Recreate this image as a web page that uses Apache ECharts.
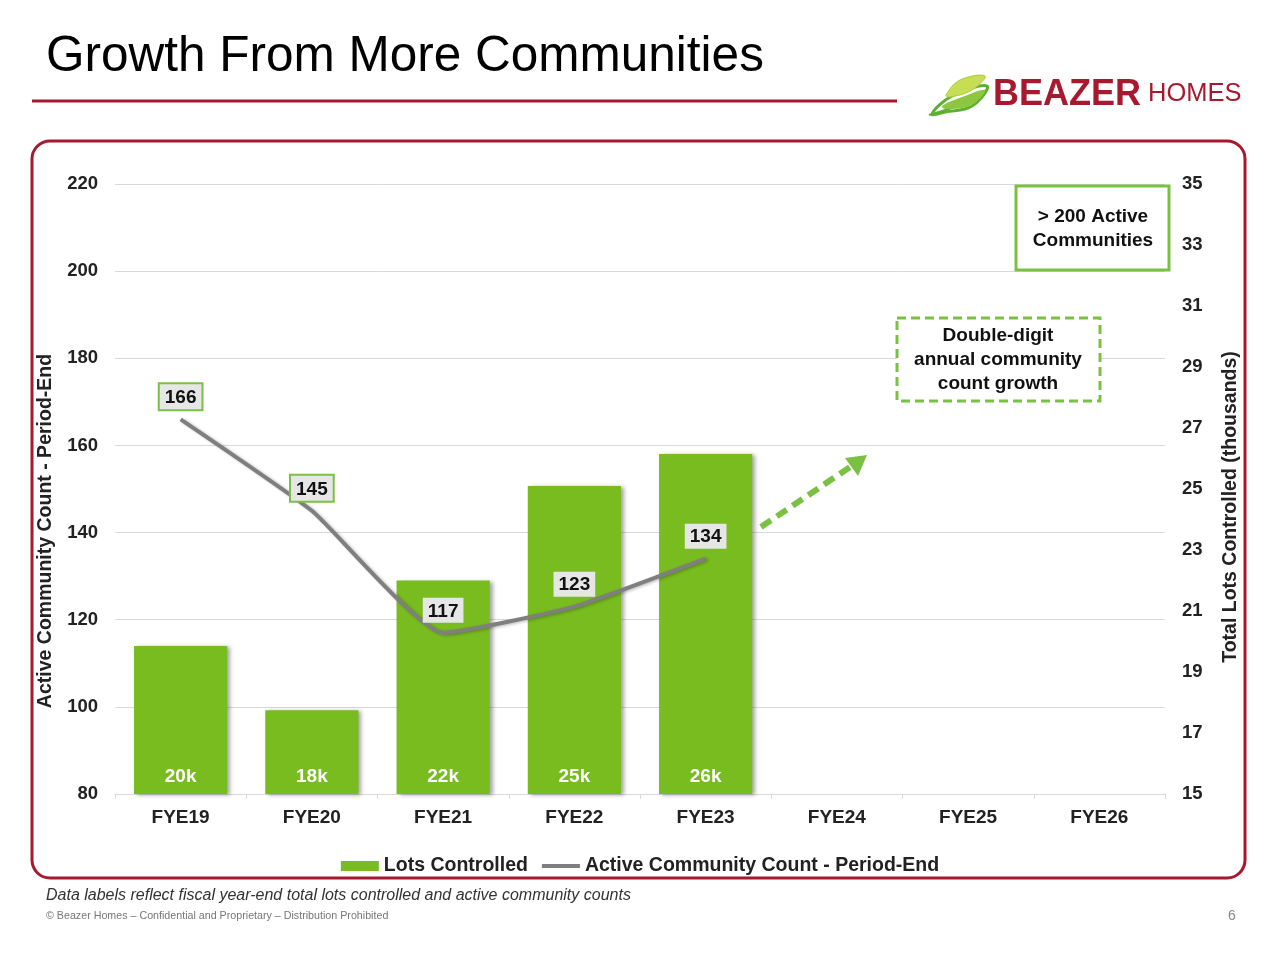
<!DOCTYPE html>
<html>
<head>
<meta charset="utf-8">
<script src="https://cdn.jsdelivr.net/npm/echarts@6/dist/echarts.min.js"></script>
<style>html,body{margin:0;padding:0;background:#fff;}#chart{width:1280px;height:960px;}</style>
</head>
<body>
<div id="chart"></div>
<script>
const categories = ['FYE19','FYE20','FYE21','FYE22','FYE23','FYE24','FYE25','FYE26'];
const lotsControlled = [19.85, 17.75, 22.0, 25.1, 26.15, null, null, null];
const lotsLabels = ['20k','18k','22k','25k','26k','','',''];
const communityCount = [166, 145, 117, 123, 134, null, null, null];
const leftTicks = {min: 80, max: 220, interval: 20};
const rightTicks = {min: 15, max: 35, interval: 2};

const GREEN = '#78BC1F';
const BORDER_GREEN = '#7AC143';
const RED = '#A6192E';
const FONT = 'Liberation Sans, Arial, sans-serif';

const chart = echarts.init(document.getElementById('chart'));

const lineData = communityCount.map((v, i) => {
  if (v === null) return null;
  const bordered = i < 2;
  return {
    value: v,
    label: {
      show: true,
      position: 'top',
      distance: 9,
      formatter: '{c}',
      color: '#111',
      fontWeight: 'bold',
      fontSize: 19,
      fontFamily: FONT,
      backgroundColor: '#E6E6E6',
      padding: [4, 5, 2, 5],
      borderColor: bordered ? BORDER_GREEN : 'transparent',
      borderWidth: bordered ? 2 : 0
    }
  };
});

const option = {
  backgroundColor: '#fff',
  animation: false,
  textStyle: {fontFamily: FONT},
  grid: {left: 115, right: 115, top: 184, bottom: 166, containLabel: false},
  legend: {
    top: 851,
    left: 'center',
    itemWidth: 38,
    itemHeight: 10,
    itemGap: 12,
    textStyle: {fontSize: 19.5, fontWeight: 'bold', color: '#222', fontFamily: FONT},
    data: [
      {name: 'Lots Controlled', icon: 'rect'},
      {name: 'Active Community Count - Period-End', lineStyle: {width: 4, color: '#7F7F7F'}}
    ]
  },
  xAxis: {
    type: 'category',
    data: categories,
    axisLine: {show: true, lineStyle: {color: '#D9D9D9', width: 1}},
    axisTick: {show: true, alignWithLabel: false, length: 5, lineStyle: {color: '#D9D9D9'}},
    axisLabel: {fontSize: 19, fontWeight: 'bold', color: '#222', margin: 14, fontFamily: FONT}
  },
  yAxis: [
    {
      type: 'value',
      min: leftTicks.min, max: leftTicks.max, interval: leftTicks.interval,
      axisLine: {show: false},
      axisTick: {show: false},
      splitLine: {show: true, lineStyle: {color: '#D9D9D9', width: 1}},
      axisLabel: {fontSize: 18.5, fontWeight: 'bold', color: '#222', margin: 17, fontFamily: FONT}
    },
    {
      type: 'value',
      min: rightTicks.min, max: rightTicks.max, interval: rightTicks.interval,
      position: 'right',
      axisLine: {show: false},
      axisTick: {show: false},
      splitLine: {show: false},
      axisLabel: {fontSize: 18.5, fontWeight: 'bold', color: '#222', margin: 17, fontFamily: FONT}
    }
  ],
  series: [
    {
      name: 'Lots Controlled',
      type: 'bar',
      yAxisIndex: 1,
      data: lotsControlled,
      barWidth: '71%',
      itemStyle: {
        color: GREEN,
        shadowColor: 'rgba(0,0,0,0.35)',
        shadowBlur: 4,
        shadowOffsetX: 3,
        shadowOffsetY: 1
      },
      label: {
        show: true,
        position: 'insideBottom',
        distance: 8,
        formatter: (p) => lotsLabels[p.dataIndex],
        color: '#fff',
        fontWeight: 'bold',
        fontSize: 19,
        fontFamily: FONT
      },
      z: 2
    },
    {
      name: 'Active Community Count - Period-End',
      type: 'line',
      yAxisIndex: 0,
      data: lineData,
      smooth: 0.15,
      symbol: 'circle',
      symbolSize: 2,
      showSymbol: true,
      lineStyle: {color: '#7F7F7F', width: 4, shadowColor: 'rgba(0,0,0,0.25)', shadowBlur: 3, shadowOffsetX: 2, shadowOffsetY: 1},
      itemStyle: {color: 'rgba(127,127,127,0)', borderWidth: 0},
      z: 5
    }
  ],
  graphic: [
    // outer frame
    {type: 'rect', z: -1, shape: {x: 32, y: 141, width: 1213, height: 737, r: 18},
     style: {fill: 'none', stroke: RED, lineWidth: 3}},
    // title
    {type: 'text', x: 46, y: 32,
     style: {text: 'Growth From More Communities', fontSize: 49.5, fontFamily: FONT, fill: '#000'}},
    // title underline
    {type: 'line', shape: {x1: 32, y1: 101, x2: 897, y2: 101}, style: {stroke: RED, lineWidth: 3}},
    // logo leaves
    {type: 'polygon', shape: {points: [[932, 114], [952, 96], [987, 86], [972, 106], [945, 112]], smooth: 0.4},
     style: {fill: '#fff', stroke: '#5BB030', lineWidth: 3}},
    {type: 'line', shape: {x1: 929, y1: 115, x2: 975, y2: 101},
     style: {stroke: '#5BB030', lineWidth: 2}},
    {type: 'polygon', shape: {points: [[946, 95], [960, 80], [985, 76], [972, 90], [950, 97]], smooth: 0.4},
     style: {fill: '#C6DD55', stroke: '#A9CF38', lineWidth: 1}},
    {type: 'polygon', shape: {points: [[942, 106], [962, 97], [985, 90], [972, 105], [946, 109]], smooth: 0.4},
     style: {fill: '#8DC63F'}},
    // logo text
    {type: 'text', x: 993, y: 77,
     style: {text: 'BEAZER', fontSize: 36, fontWeight: 'bold', fontFamily: FONT, fill: RED}},
    {type: 'text', x: 1148, y: 81,
     style: {text: 'HOMES', fontSize: 25.5, fontFamily: FONT, fill: RED}},
    // axis titles
    {type: 'text', x: 46, y: 531, rotation: Math.PI / 2,
     style: {text: 'Active Community Count - Period-End', fontSize: 19.5, fontWeight: 'bold', fontFamily: FONT,
             fill: '#222', align: 'center', verticalAlign: 'middle'}},
    {type: 'text', x: 1231, y: 507, rotation: Math.PI / 2,
     style: {text: 'Total Lots Controlled (thousands)', fontSize: 19.5, fontWeight: 'bold', fontFamily: FONT,
             fill: '#222', align: 'center', verticalAlign: 'middle'}},
    // > 200 Active Communities box
    {type: 'rect', shape: {x: 1016, y: 186, width: 153, height: 84},
     style: {fill: '#fff', stroke: BORDER_GREEN, lineWidth: 3}, z: 10},
    {type: 'text', x: 1093, y: 229, z: 11,
     style: {text: '> 200 Active\nCommunities', fontSize: 19, fontWeight: 'bold', fontFamily: FONT, fill: '#111',
             align: 'center', verticalAlign: 'middle', lineHeight: 24}},
    // dashed box
    {type: 'rect', shape: {x: 897, y: 318, width: 203, height: 83},
     style: {fill: '#fff', stroke: BORDER_GREEN, lineWidth: 3, lineDash: [9, 5]}, z: 10},
    {type: 'text', x: 998, y: 360, z: 11,
     style: {text: 'Double-digit\nannual community\ncount growth', fontSize: 19, fontWeight: 'bold', fontFamily: FONT,
             fill: '#111', align: 'center', verticalAlign: 'middle', lineHeight: 24}},
    // dashed arrow
    {type: 'line', shape: {x1: 761, y1: 527, x2: 853, y2: 465}, z: 10,
     style: {stroke: BORDER_GREEN, lineWidth: 6, lineDash: [12, 7]}},
    {type: 'polygon', shape: {points: [[867, 455], [845, 458], [858, 476]]}, z: 10,
     style: {fill: BORDER_GREEN}},
    // footnotes
    {type: 'text', x: 46, y: 888,
     style: {text: 'Data labels reflect fiscal year-end total lots controlled and active community counts',
             fontSize: 16, fontStyle: 'italic', fontFamily: FONT, fill: '#333'}},
    {type: 'text', x: 46, y: 911,
     style: {text: '\u00A9 Beazer Homes \u2013 Confidential and Proprietary \u2013 Distribution Prohibited',
             fontSize: 10.7, fontFamily: FONT, fill: '#777'}},
    {type: 'text', x: 1228, y: 909,
     style: {text: '6', fontSize: 14, fontFamily: FONT, fill: '#888'}}
  ]
};

chart.setOption(option);
</script>
</body>
</html>
